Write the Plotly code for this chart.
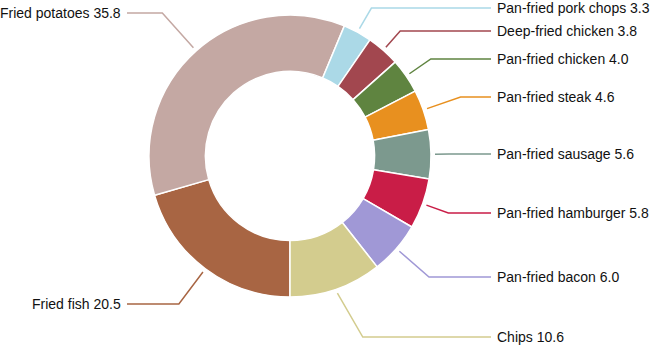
import math
import plotly.graph_objects as go

# ---- data (clockwise from 6 o'clock) ----
categories = ["Fried fish", "Fried potatoes", "Pan-fried pork chops", "Deep-fried chicken",
              "Pan-fried chicken", "Pan-fried steak", "Pan-fried sausage",
              "Pan-fried hamburger", "Pan-fried bacon", "Chips"]
values = [20.5, 35.8, 3.3, 3.8, 4.0, 4.6, 5.6, 5.8, 6.0, 10.6]

# ---- style / layout ----
colors = ["#a86543", "#c4a8a3", "#abd9e7", "#a2474f", "#5f8440", "#e8901f",
          "#7c998e", "#c91d47", "#a098d6", "#d3cc8e"]
label_y_px = [304, 13, 8, 31, 59, 97, 154, 213, 277, 337]

W, H = 660, 346
CX, CY, R = 290, 156, 141
HOLE = 0.6
START_DEG = 180.0
LEAD_R0 = R + 4
RIGHT_TEXT_X, RIGHT_LINE_END = 495, 491
LEFT_TEXT_X, LEFT_LINE_END = 123, 127
MIN_DIAG = math.radians(30)


def px(x):
    return x / W


def py(y):
    return 1 - y / H


fig = go.Figure(go.Pie(
    labels=categories, values=values, sort=False, direction="clockwise",
    rotation=START_DEG, hole=HOLE, textinfo="none", hoverinfo="label+value",
    marker=dict(colors=colors, line=dict(color="white", width=1.5)),
    domain=dict(x=[px(CX - R), px(CX + R)], y=[py(CY + R), py(CY - R)]),
    showlegend=False,
))

total = sum(values)
cum = 0.0
shapes, annotations = [], []
for name, v, col, ly in zip(categories, values, colors, label_y_px):
    mid = math.radians(START_DEG + (cum + v / 2) / total * 360.0)
    cum += v
    ux, uy = math.sin(mid), -math.cos(mid)
    sx, sy = CX + LEAD_R0 * ux, CY + LEAD_R0 * uy
    dy = ly - sy
    right = ux >= 0
    sign = 1 if right else -1
    if abs(uy) > 1e-6 and dy / uy > 0:
        dx = abs(dy / uy * ux)
    else:
        dx = 0.0
    dx = max(dx, abs(dy) * math.tan(MIN_DIAG))
    ex, ey = sx + sign * dx, ly
    endx = RIGHT_LINE_END if right else LEFT_LINE_END
    path = f"M {px(sx)} {py(sy)} L {px(ex)} {py(ey)} L {px(endx)} {py(ly)}"
    shapes.append(dict(type="path", path=path, xref="paper", yref="paper",
                       line=dict(color=col, width=1.5)))
    annotations.append(dict(
        x=px(RIGHT_TEXT_X if right else LEFT_TEXT_X), y=py(ly),
        xref="paper", yref="paper", xanchor="left" if right else "right",
        yanchor="middle", showarrow=False,
        text=f"{name} {v:.1f}",
        font=dict(family="Liberation Sans, Arial, sans-serif", size=14, color="#111111"),
    ))

fig.update_layout(
    width=W, height=H, margin=dict(l=0, r=0, t=0, b=0),
    paper_bgcolor="white", plot_bgcolor="white",
    shapes=shapes, annotations=annotations,
)

fig.write_html(
    "out.html",
    config={"displayModeBar": False},
    post_script="document.body.style.margin='0';document.body.style.overflow='hidden';",
)
